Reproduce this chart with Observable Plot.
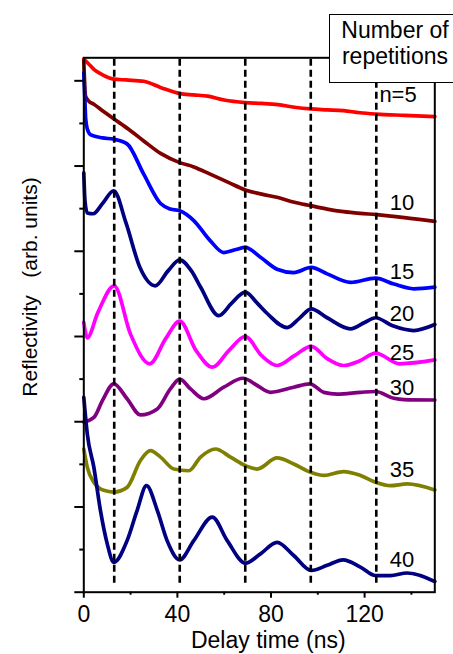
<!DOCTYPE html>
<html>
<head>
<meta charset="utf-8">
<script src="https://cdn.jsdelivr.net/npm/d3@7"></script>
<script src="https://cdn.jsdelivr.net/npm/@observablehq/plot@0.6"></script>
<style>
  html, body { margin: 0; padding: 0; background: #fff; }
  #wrap { position: relative; width: 453px; height: 654px; overflow: hidden; background: #fff; }
  #key {
    position: absolute; left: 329px; top: 14px; width: 132px; height: 69px;
    box-sizing: border-box; border: 1.5px solid #000; background: #fff;
    padding-top: 3px; text-align: center;
    font-family: "Liberation Sans", Arial, sans-serif; font-size: 23px; line-height: 25.7px; color: #000;
  }
</style>
</head>
<body>
<div id="wrap">
  <div id="chart"></div>
  <div id="key">Number of<br>repetitions</div>
</div>
<script>
// Reflectivity traces vs. delay time [ns, arb. units], one per repetition count
const n5 = [[0,12.51],[2,12.40],[4.3,12.27],[8,12.14],[12.8,12.04],[18,12.02],[25.6,11.99],[33,11.84],[41,11.70],[47,11.67],[53,11.64],[60,11.55],[69,11.49],[76,11.47],[83,11.44],[90,11.38],[97,11.34],[104,11.32],[111,11.30],[118,11.25],[125,11.22],[137,11.19],[150,11.16]];
const n10 = [[0,12.47],[0.7,11.65],[2,11.53],[4.3,11.45],[8,11.30],[12.8,11.11],[19,10.87],[25.6,10.59],[33,10.29],[41,10.08],[47,9.98],[54,9.81],[62,9.61],[69,9.44],[76,9.34],[83,9.26],[90,9.15],[97,9.07],[104,8.99],[111,8.93],[118,8.89],[125,8.86],[137,8.79],[150,8.70]];
const n15 = [[0,12.19],[0.4,11.65],[0.8,11.11],[1.5,10.87],[3,10.73],[8,10.66],[12.8,10.63],[18.5,10.52],[25.6,9.81],[32.8,9.12],[37,8.99],[41,8.95],[47,8.72],[54,8.25],[59.8,7.97],[65,8.04],[69,8.09],[75.5,7.86],[82.6,7.58],[89.7,7.50],[97.2,7.62],[104,7.47],[114,7.27],[124.7,7.37],[132.5,7.23],[141,7.12],[150,7.16]];
const n20 = [[0,9.84],[0.5,9.19],[1.5,8.90],[4,8.88],[8,9.12],[12.8,9.42],[18,8.67],[24,7.62],[30.6,7.19],[36,7.54],[41,7.80],[46,7.54],[50,7.15],[57.7,6.49],[63,6.77],[69,7.04],[74,6.79],[78.4,6.54],[86.9,6.21],[92,6.42],[97.2,6.65],[104,6.44],[114,6.18],[120,6.33],[124.7,6.44],[132,6.25],[141,6.14],[150,6.28]];
const n25 = [[0,6.33],[1.5,5.97],[6,6.56],[13,7.19],[20,6.05],[28.2,5.36],[35,5.95],[41,6.36],[48,5.67],[55,5.28],[62,5.67],[69,6.00],[76,5.55],[82.6,5.32],[90,5.55],[97.2,5.77],[104,5.48],[111,5.32],[118,5.43],[124.7,5.61],[135,5.36],[150,5.45]];
const n30 = [[0,3.99],[4.3,4.10],[8,4.50],[12.8,4.89],[18.5,4.54],[24.2,4.16],[31.4,4.30],[37,4.77],[41,5.00],[45.6,4.77],[51.3,4.54],[59.8,4.81],[68.1,5.02],[74.1,4.85],[79.8,4.69],[89.7,4.81],[96.6,4.89],[102.6,4.69],[108.3,4.65],[118.2,4.69],[124.7,4.71],[132.5,4.55],[136.8,4.52],[150,4.51]];
const n35 = [[0,3.36],[1.5,2.93],[4.3,2.58],[8.5,2.39],[12.8,2.35],[18.5,2.46],[24.2,3.09],[28.5,3.32],[32.8,3.17],[38.5,2.89],[44.9,2.85],[49.9,3.17],[56.3,3.36],[62.7,3.17],[69.1,2.97],[74.1,2.89],[82.6,3.15],[89.7,3.01],[97.2,2.81],[102.6,2.74],[111.1,2.83],[118.2,2.74],[124.7,2.58],[131,2.50],[138.2,2.54],[150,2.40]];
const n40 = [[0,4.57],[1.5,3.71],[4.3,2.93],[7.1,1.92],[10,1.14],[12.8,0.70],[18.5,1.21],[22.8,1.92],[26.8,2.50],[31.4,1.92],[35.6,1.21],[41,0.76],[47,1.21],[54.9,1.76],[61.3,1.21],[69.1,0.68],[75.5,0.90],[82.6,1.17],[89.7,0.86],[97.2,0.51],[104,0.63],[110.8,0.76],[118.2,0.59],[124.7,0.39],[131,0.39],[138.2,0.45],[150,0.25]];

const seriesNames = ["n=5", "10", "15", "20", "25", "30", "35", "40"];
const seriesData = [n5, n10, n15, n20, n25, n30, n35, n40];
const seriesColors = ["#ff0000", "#800000", "#0000ff", "#000080", "#ff00ff", "#800080", "#808000", "#000080"];

// Delay times of the dashed guide lines [ns]
const markerTimes = [13, 41, 69, 97, 125];

const xMajorTicks = [0, 40, 80, 120];
const xMinorTicks = [20, 60, 100, 140];
const yMajorTicks = [0, 2, 4, 6, 8, 10, 12];
const yMinorTicks = [1, 3, 5, 7, 9, 11];

const xLabel = "Delay time (ns)";
const yLabel = "Reflectivity\u00a0\u00a0\u00a0(arb. units)";

// Long-format table for the line mark
const rows = seriesNames.flatMap((n, i) => seriesData[i].map(([t, v]) => ({n, t, v})));

// Series labels sit just above each trace near its right end
const labelT = 136;
function valueAt(pts, t) {
  for (let i = 1; i < pts.length; i++) {
    const [t0, v0] = pts[i - 1], [t1, v1] = pts[i];
    if (t <= t1) return v0 + (v1 - v0) * (t - t0) / (t1 - t0);
  }
  return pts[pts.length - 1][1];
}
const labelNudge = {"n=5": [-4, -13], "25": [0, -4], "30": [0, -4]};
const labels = seriesNames.map((n, i) => ({n, t: labelT, v: valueAt(seriesData[i], labelT)}));

const font = "Liberation Sans, Arial, Helvetica, sans-serif";

const chart = Plot.plot({
  width: 453,
  height: 654,
  marginLeft: 83.3,
  marginRight: 18.7,
  marginTop: 57.3,
  marginBottom: 62.3,
  style: {fontFamily: font, fontSize: "23px", background: "#fff", color: "#000", overflow: "visible"},
  x: {domain: [0, 150]},
  y: {domain: [0, 12.54]},
  color: {domain: seriesNames, range: seriesColors},
  marks: [
    Plot.line(rows, {x: "t", y: "v", z: "n", stroke: "n", strokeWidth: 3.7, curve: "monotone-x"}),
    Plot.ruleX(markerTimes, {x: d => d, stroke: "#000", strokeWidth: 2.6, strokeDasharray: "7,4", insetTop: 1.5, insetBottom: 5}),
    Plot.frame({stroke: "#000", strokeWidth: 2}),
    Plot.axisX({ticks: xMajorTicks, tickSize: 6, tickPadding: 7.5, strokeWidth: 2, fontSize: 23, label: null}),
    Plot.axisX({ticks: xMinorTicks, tickSize: 3, strokeWidth: 2, fill: "none", label: null}),
    Plot.axisY({ticks: yMajorTicks, tickSize: 9, strokeWidth: 2, fill: "none", label: null}),
    Plot.axisY({ticks: yMinorTicks, tickSize: 4, strokeWidth: 2, fill: "none", label: null}),
    ...labels.map(l => {
      const [dx, dy] = labelNudge[l.n] ?? [0, -7];
      return Plot.text([l], {x: "t", y: "v", text: "n", dx, dy, fontSize: 22, textAnchor: "middle", lineAnchor: "bottom", fill: "#000"});
    }),
    Plot.text([xLabel], {text: d => d, frameAnchor: "bottom", textAnchor: "middle", lineAnchor: "bottom", dx: 9, dy: 56, fontSize: 23, fill: "#000"}),
    Plot.text([yLabel], {text: d => d, frameAnchor: "left", textAnchor: "middle", lineAnchor: "middle", rotate: -90, dx: -54, dy: -38, fontSize: 21, fill: "#000"})
  ]
});

document.getElementById("chart").appendChild(chart);
</script>
</body>
</html>
